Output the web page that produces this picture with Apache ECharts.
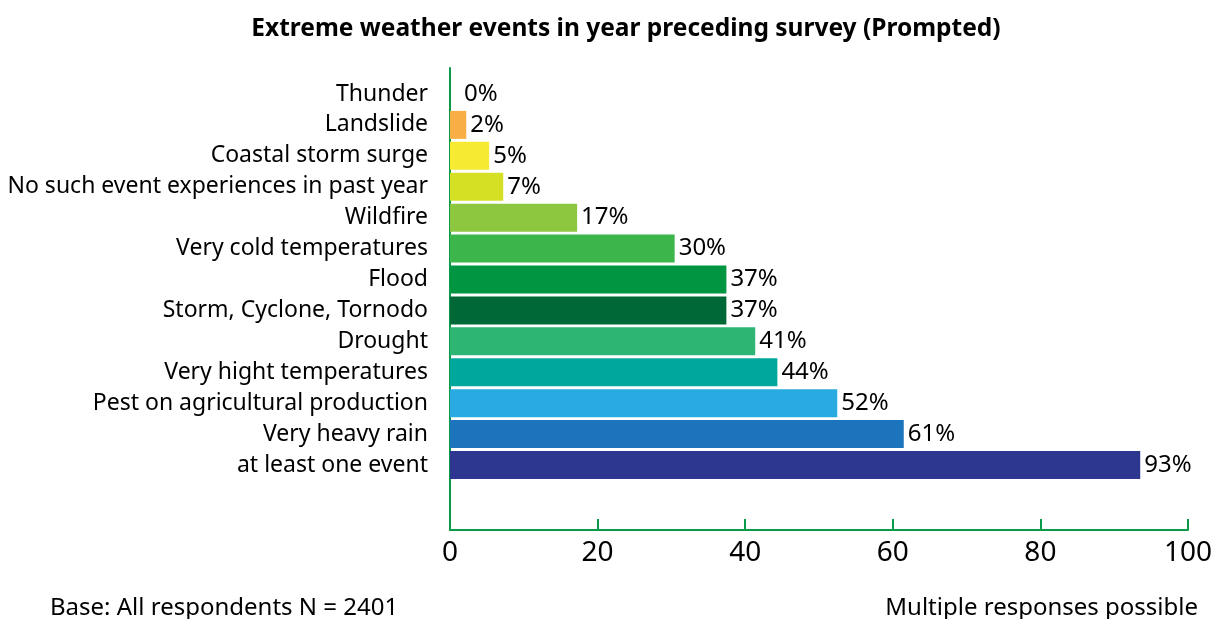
<!DOCTYPE html>
<html>
<head>
<meta charset="utf-8">
<script src="https://cdn.jsdelivr.net/npm/echarts@6/dist/echarts.min.js"></script>
<style>html,body{margin:0;padding:0;background:#fff;}#c{width:1215px;height:619px;}</style>
</head>
<body>
<div id="c"></div>
<script>
const categories = ['Thunder','Landslide','Coastal storm surge','No such event experiences in past year','Wildfire','Very cold temperatures','Flood','Storm, Cyclone, Tornodo','Drought','Very hight temperatures','Pest on agricultural production','Very heavy rain','at least one event'];
const values = [0, 2.2, 5.3, 7.2, 17.2, 30.4, 37.4, 37.4, 41.3, 44.3, 52.4, 61.4, 93.4];
const barColors = ['#F9AE45','#F9AE45','#F6EB31','#D5DF24','#8DC63F','#3CB54A','#009540','#006837','#2DB673','#00A89C','#29ABE2','#1C75BC','#2E3790'];
const xTicks = [0, 20, 40, 60, 80, 100];
const titleText = 'Extreme weather events in year preceding survey (Prompted)';
const baseNote = 'Base: All respondents N = 2401';
const multiNote = 'Multiple responses possible';

const FONT = 'Noto Sans';
const green = '#0A9B48';
const chart = echarts.init(document.getElementById('c'), null, {renderer: 'canvas'});
chart.setOption({
  animation: false,
  backgroundColor: '#fff',
  textStyle: {fontFamily: FONT},
  title: [
    {text: titleText, left: 621, top: 12, textAlign: 'center',
     textStyle: {fontFamily: FONT, fontSize: 24.5, fontWeight: 'bold', color: '#000'}},
    {text: baseNote, left: 45, top: 591,
     textStyle: {fontFamily: FONT, fontSize: 24, fontWeight: 'normal', color: '#000'}},
    {text: multiNote, right: 12, top: 591,
     textStyle: {fontFamily: FONT, fontSize: 24, fontWeight: 'normal', color: '#000'}}
  ],
  grid: [
    {left: 450, right: 26, top: 68, bottom: 89},
    {left: 450, right: 26, top: 78.5, bottom: 138.5}
  ],
  xAxis: [
    {type: 'value', gridIndex: 0, min: xTicks[0], max: xTicks[xTicks.length-1], interval: xTicks[1]-xTicks[0],
     axisLine: {show: true, lineStyle: {color: green, width: 2}},
     axisTick: {show: true, inside: true, length: 11, lineStyle: {color: green, width: 2}},
     axisLabel: {fontSize: 28, color: '#000', margin: 9, fontFamily: FONT},
     splitLine: {show: false}},
    {type: 'value', gridIndex: 1, min: 0, max: 100, show: false}
  ],
  yAxis: [
    {type: 'value', gridIndex: 0, min: 0, max: 1,
     axisLine: {show: true, lineStyle: {color: green, width: 2}},
     axisTick: {show: false}, axisLabel: {show: false}, splitLine: {show: false}},
    {type: 'category', gridIndex: 1, inverse: true, data: categories,
     axisLine: {show: false}, axisTick: {show: false}, splitLine: {show: false},
     axisLabel: {fontSize: 23, color: '#000', margin: 22, fontFamily: FONT}}
  ],
  series: [{
    type: 'bar', xAxisIndex: 1, yAxisIndex: 1,
    barWidth: 28,
    data: values.map((v, i) => ({value: v, itemStyle: {color: barColors[i]},
      label: v === 0 ? {distance: 14} : undefined})),
    label: {show: true, position: 'right', distance: 4, fontSize: 24, color: '#000', fontFamily: FONT,
      formatter: p => Math.round(p.value) + '%'}
  }]
});
</script>
</body>
</html>
